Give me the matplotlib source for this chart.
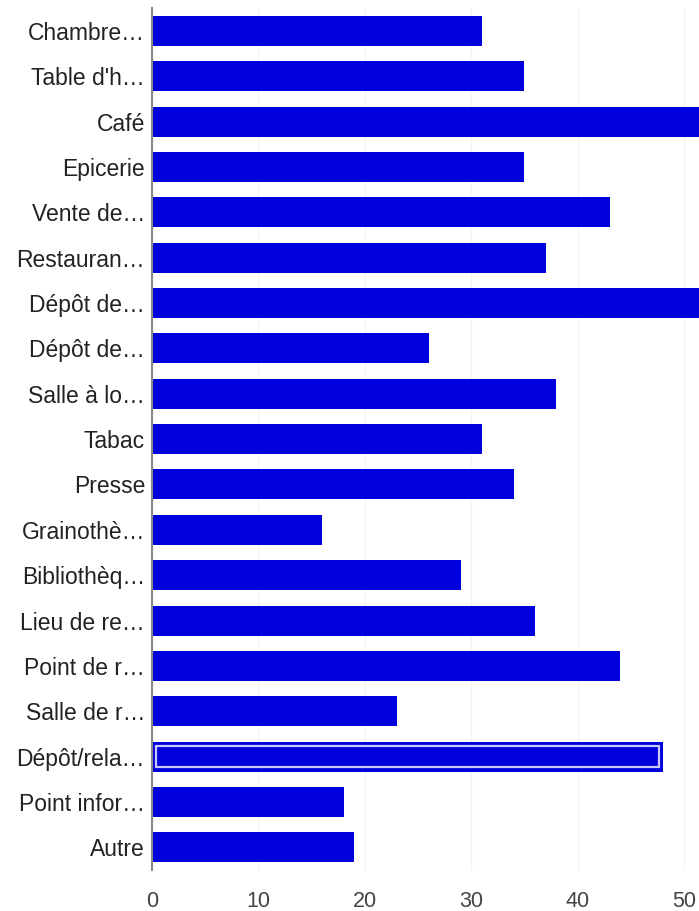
import matplotlib
matplotlib.use("Agg")
import matplotlib.pyplot as plt

categories = ["Chambre…", "Table d'h…", "Café", "Epicerie", "Vente de…", "Restauran…",
              "Dépôt de…", "Dépôt de…", "Salle à lo…", "Tabac", "Presse", "Grainothè…",
              "Bibliothèq…", "Lieu de re…", "Point de r…", "Salle de r…", "Dépôt/rela…",
              "Point infor…", "Autre"]
values = [31, 35, 54, 35, 43, 37, 53, 26, 38, 31, 34, 16, 29, 36, 44, 23, 48, 18, 19]
xticks = [0, 10, 20, 30, 40, 50]
highlight = 16

plt.rcParams['font.family'] = ['Liberation Sans', 'DejaVu Sans']

fig = plt.figure(figsize=(6.99, 9.11), dpi=100)
ax = fig.add_axes([0.2175, 0.045, 0.7825, 0.946])

pos = list(range(len(categories)))
ax.barh(pos, values, height=0.66, color='#0000dd', zorder=3)
# highlighted (selected) bar inner outline
ax.barh([pos[highlight]], [values[highlight] - 0.7], left=0.35, height=0.48,
        fill=False, edgecolor='#c8c8ff', linewidth=1.6, zorder=4)

ax.set_ylim(len(categories) - 0.5, -0.5)
ax.set_xlim(0, 51.4)
ax.set_yticks(pos)
ax.set_yticklabels(categories, fontsize=16.5, color='#222222')
ax.set_xticks(xticks)
ax.set_xticklabels([str(t) for t in xticks], fontsize=15.5, color='#444444')
ax.tick_params(axis='y', length=0, pad=5)
ax.tick_params(axis='x', length=0, pad=15)

for s in ['top', 'right', 'bottom']:
    ax.spines[s].set_visible(False)
ax.spines['left'].set_color('#888888')
ax.spines['left'].set_linewidth(1.5)
ax.spines['left'].set_zorder(5)

ax.grid(axis='x', color='#f2f2f2', linewidth=1, zorder=0)
ax.set_axisbelow(True)

fig.savefig("out.png", dpi=100)
